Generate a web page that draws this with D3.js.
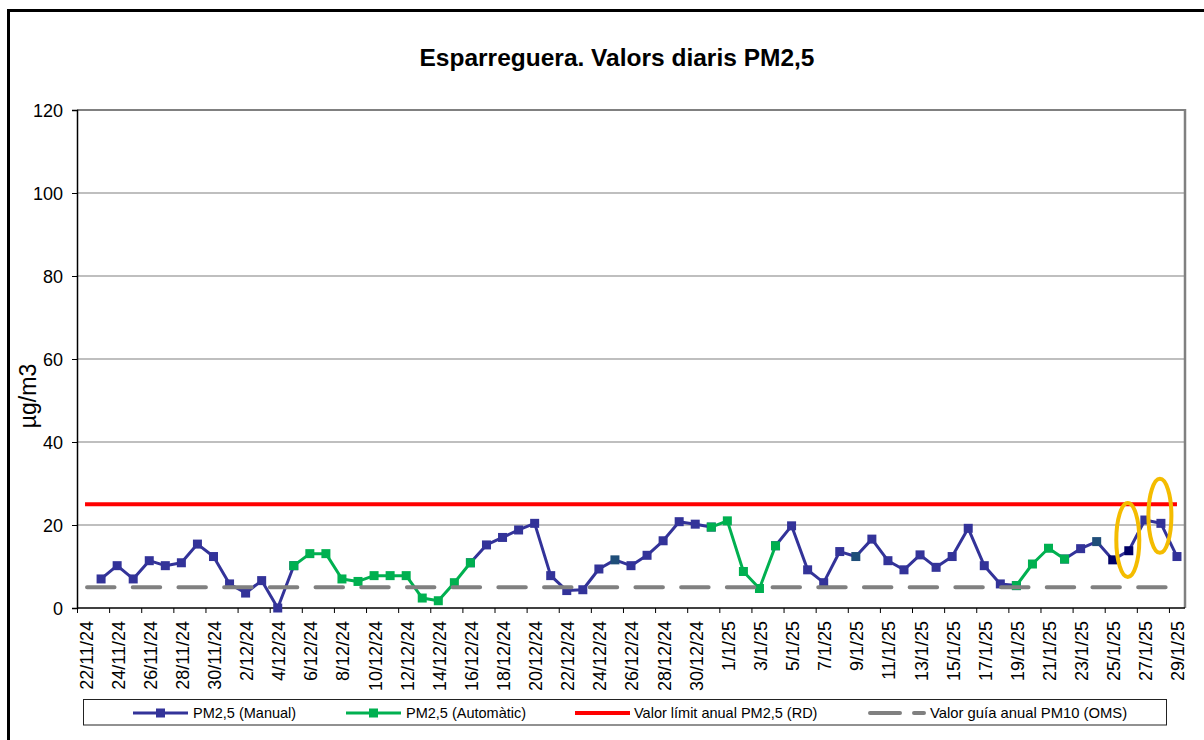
<!DOCTYPE html>
<html>
<head>
<meta charset="utf-8">
<script src="https://d3js.org/d3.v7.min.js"></script>
<title>Esparreguera PM2,5</title>
<style>
  body { margin: 0; background: #fff; }
  svg text { font-family: "Liberation Sans", Arial, sans-serif; fill: #000; }
</style>
</head>
<body>
<svg id="chart" width="1204" height="740"></svg>
<script>
// daily categories 22/11/24 .. 29/1/25
const days = d3.timeDay.range(new Date(2024, 10, 22), new Date(2025, 0, 30));

// PM2,5 manual (null = no sample)
const manual = [
  null, 7.0, 10.2, 7.0, 11.4, 10.2, 10.9, 15.4, 12.4, 5.8,
  3.6, 6.6, 0.0, 10.2, null, null, null, null, null, null,
  null, null, null, null, 10.9, 15.2, 17.0, 18.8, 20.4, 7.8,
  4.2, 4.4, 9.4, 11.6, 10.2, 12.7, 16.2, 20.8, 20.2, 19.5,
  null, null, null, 15.0, 19.8, 9.2, 6.1, 13.6, 12.4, 16.6,
  11.4, 9.2, 12.8, 9.8, 12.4, 19.2, 10.2, 5.8, 5.4, null,
  null, 11.8, 14.3, 16.0, 11.6, 13.8, 21.2, 20.4, 12.4
];

// PM2,5 automatic analyser
const automatic = [
  null, null, null, null, null, null, null, null, null, null,
  null, null, null, 10.2, 13.1, 13.1, 7.0, 6.4, 7.8, 7.8,
  7.8, 2.4, 1.75, 6.1, 10.9, null, null, null, null, null,
  null, null, null, null, null, null, null, null, null, 19.5,
  21.0, 8.8, 4.7, 15.0, null, null, null, null, null, null,
  null, null, null, null, null, null, null, null, 5.4, 10.6,
  14.4, 11.8, null, null, null, null, null, null, null
];

const limitRD = 25;     // valor límit anual PM2,5
const guideOMS = 5;     // valor guia anual (OMS)

// manual points drawn with a different marker colour
const darkTeal = [33, 48, 63];
const darkNavy = [64, 65];

// highlighted points (category index, centre value)
const rings = [[65, 16.4], [67, 22.2]];

const yTicks = [0, 20, 40, 60, 80, 100, 120];

const legendItems = [
  ["PM2,5 (Manual)", "manual"],
  ["PM2,5 (Automàtic)", "auto"],
  ["Valor límit anual PM2,5 (RD)", "limit"],
  ["Valor guía anual PM10 (OMS)", "guide"]
];

const blue = "#333399", green = "#00B050", red = "#FF0000", grey = "#808080";

const svg = d3.select("#chart");
const pLeft = 77, pRight = 1185, pTop = 110, pBottom = 608;

const fmt = d3.timeFormat("%-d/%-m/%y");
const cats = days.map(fmt);

const x = d3.scaleBand().domain(cats).range([pLeft, pRight]).padding(0);
const xc = i => x(cats[i]) + x.bandwidth() / 2;
const y = d3.scaleLinear().domain([0, 120]).range([pBottom, pTop]);

// outer frame
svg.append("rect")
  .attr("x", 8.5).attr("y", 10.5).attr("width", 1300).attr("height", 800)
  .attr("fill", "none").attr("stroke", "#000").attr("stroke-width", 3);

// title
svg.append("text")
  .attr("x", 617).attr("y", 66)
  .attr("text-anchor", "middle")
  .style("font-size", "24.5px").style("font-weight", "bold")
  .text("Esparreguera. Valors diaris PM2,5");

// grid
svg.append("g").selectAll("line")
  .data(yTicks.filter(d => d > 0))
  .join("line")
  .attr("x1", pLeft).attr("x2", pRight)
  .attr("y1", d => y(d)).attr("y2", d => y(d))
  .attr("stroke", grey).attr("stroke-width", d => d === 120 ? 2 : 1.2);

// right border of plot area
svg.append("line")
  .attr("x1", pRight).attr("x2", pRight).attr("y1", pTop - 1).attr("y2", pBottom)
  .attr("stroke", grey).attr("stroke-width", 2.5);

// y axis
const yAxis = svg.append("g")
  .attr("transform", `translate(${pLeft},0)`)
  .call(d3.axisLeft(y).tickValues(yTicks).tickSize(5).tickPadding(9));
yAxis.select(".domain").attr("stroke", "#000").attr("stroke-width", 1.5);
yAxis.selectAll(".tick line").attr("stroke", "#000");
yAxis.selectAll(".tick text")
  .style("font-size", "18px").style("font-family", "Liberation Sans, Arial, sans-serif")
  .attr("dy", "0.36em");

svg.append("text")
  .attr("transform", "translate(36,396) rotate(-90)")
  .attr("text-anchor", "middle")
  .style("font-size", "23px")
  .text("µg/m3");

// x axis: ticks every two days at category boundaries
const xb = d3.scaleLinear().domain([0, cats.length]).range([pLeft, pRight]);
const xAxis = svg.append("g")
  .attr("transform", `translate(0,${pBottom})`)
  .call(d3.axisBottom(xb).tickValues(d3.range(0, cats.length, 2)).tickSize(5).tickFormat(""));
xAxis.select(".domain").attr("stroke", "#000").attr("stroke-width", 1.5).attr("d", `M${pLeft},0H${pRight}`);
xAxis.selectAll(".tick line").attr("stroke", "#000");

svg.append("g").selectAll("text")
  .data(cats.filter((d, i) => i % 2 === 0))
  .join("text")
  .attr("transform", d => `translate(${x(d) + x.bandwidth() / 2 + 1},${pBottom + 13}) rotate(-90)`)
  .attr("text-anchor", "end")
  .attr("dy", "0.36em")
  .style("font-size", "18px")
  .text(d => d);

// series
function series(values, color) {
  const pts = values.map((v, i) => ({ i, v }));
  const line = d3.line().defined(d => d.v !== null).x(d => xc(d.i)).y(d => y(d.v));
  svg.append("path")
    .attr("d", line(pts))
    .attr("fill", "none").attr("stroke", color).attr("stroke-width", 3)
    .attr("stroke-linejoin", "round");
  svg.append("g").selectAll("rect")
    .data(pts.filter(d => d.v !== null))
    .join("rect")
    .attr("x", d => xc(d.i) - 4.5).attr("y", d => y(d.v) - 4.5)
    .attr("width", 9).attr("height", 9)
    .attr("fill", d => darkTeal.includes(d.i) && color === blue ? "#1F4E79"
                    : darkNavy.includes(d.i) && color === blue ? "#000066" : color);
}
series(manual, blue);
series(automatic, green);

// reference lines
svg.append("line")
  .attr("x1", xc(0)).attr("x2", xc(cats.length - 1))
  .attr("y1", y(limitRD)).attr("y2", y(limitRD))
  .attr("stroke", red).attr("stroke-width", 4);

svg.append("line")
  .attr("x1", xc(0) + 2).attr("x2", xc(cats.length - 1))
  .attr("y1", y(guideOMS)).attr("y2", y(guideOMS))
  .attr("stroke", grey).attr("stroke-width", 4)
  .attr("stroke-linecap", "round")
  .attr("stroke-dasharray", "27.5,18.2");

// highlight rings
svg.append("g").selectAll("ellipse")
  .data(rings)
  .join("ellipse")
  .attr("cx", d => xc(d[0]) - 1).attr("cy", d => y(d[1]))
  .attr("rx", 11.5).attr("ry", 37)
  .attr("fill", "none").attr("stroke", "#F4BC00").attr("stroke-width", 4);

// legend
svg.append("rect")
  .attr("x", 83.5).attr("y", 699.5).attr("width", 1083).attr("height", 25.5)
  .attr("fill", "#fff").attr("stroke", "#222").attr("stroke-width", 1);

const legX = [133, 346, 575, 870];
const ly = 713;
legendItems.forEach(([label, kind], k) => {
  const g = svg.append("g");
  const x0 = legX[k];
  if (kind === "manual" || kind === "auto") {
    const c = kind === "manual" ? blue : green;
    g.append("line").attr("x1", x0).attr("x2", x0 + 55).attr("y1", ly).attr("y2", ly)
      .attr("stroke", c).attr("stroke-width", 3);
    g.append("rect").attr("x", x0 + 23).attr("y", ly - 4.5).attr("width", 9).attr("height", 9).attr("fill", c);
    g.append("text").attr("x", x0 + 60).attr("y", ly).attr("dy", "0.36em")
      .style("font-size", "14.5px").text(label);
  } else if (kind === "limit") {
    g.append("line").attr("x1", x0).attr("x2", x0 + 55).attr("y1", ly).attr("y2", ly)
      .attr("stroke", red).attr("stroke-width", 4);
    g.append("text").attr("x", x0 + 59).attr("y", ly).attr("dy", "0.36em")
      .style("font-size", "14.5px").text(label);
  } else {
    g.append("line").attr("x1", x0).attr("x2", x0 + 54).attr("y1", ly).attr("y2", ly)
      .attr("stroke", grey).attr("stroke-width", 4)
      .attr("stroke-linecap", "round").attr("stroke-dasharray", "30,14");
    g.append("text").attr("x", x0 + 60).attr("y", ly).attr("dy", "0.36em")
      .style("font-size", "14.8px").text(label);
  }
});
</script>
</body>
</html>
